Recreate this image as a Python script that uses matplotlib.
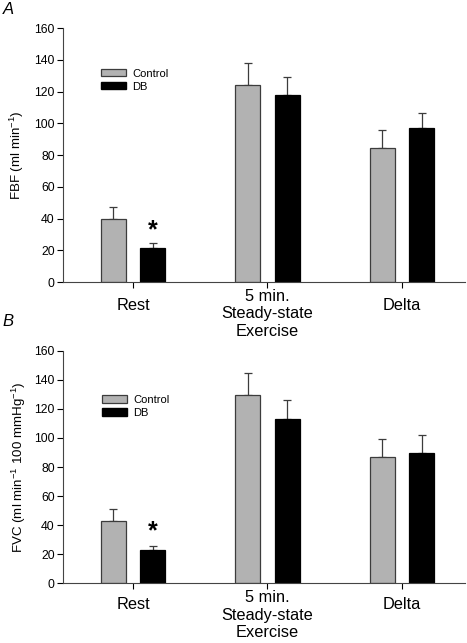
import numpy as np
import matplotlib as mlt
mlt.use('Agg')
import matplotlib.pyplot as plt
from matplotlib.patches import Patch

plt.rcParams['font.family'] = ['Liberation Sans', 'DejaVu Sans']
plt.rcParams['mathtext.default'] = 'regular'

# data
categories = ['Rest', '5 min.\nSteady-state\nExercise', 'Delta']
groups = ['Control', 'DB']

fbf_control = [39.7, 123.9, 84.6]
fbf_control_err = [7.5, 14.1, 10.9]
fbf_db = [21.4, 118.0, 96.8]
fbf_db_err = [3.0, 11.3, 9.5]

fvc_control = [42.6, 129.3, 86.9]
fvc_control_err = [8.3, 15.1, 12.1]
fvc_db = [23.1, 112.8, 89.8]
fvc_db_err = [2.3, 13.5, 12.0]

star_idx = 0  # significant difference at rest

grey = '#b2b2b2'
edge = '#3c3c3c'


def draw_panel(ax, ctrl, ctrl_err, db, db_err, ylabel, ylab_x, leg_anchor, star_y, lab_pad):
    x = np.arange(len(categories))
    off = 0.147
    w = 0.186
    ax.bar(x - off, ctrl, w, color=grey, edgecolor=edge, linewidth=0.9, zorder=2)
    ax.bar(x + off, db, w, color='black', edgecolor='black', linewidth=0.9, zorder=2)
    ax.errorbar(x - off, ctrl, yerr=[np.zeros(len(ctrl)), ctrl_err], fmt='none',
                ecolor=edge, elinewidth=0.9, capsize=2.6, capthick=0.9, zorder=1)
    ax.errorbar(x + off, db, yerr=[np.zeros(len(db)), db_err], fmt='none',
                ecolor=edge, elinewidth=0.9, capsize=2.6, capthick=0.9, zorder=1)
    ax.text(x[star_idx] + off, star_y, '*', ha='center', va='center',
            fontsize=18, fontweight='bold')

    ax.set_xlim(-0.52, 2.47)
    ax.set_ylim(0, 160)
    ax.set_yticks(np.arange(0, 161, 20))
    ax.set_xticks(x)
    ax.tick_params(axis='y', direction='out', length=4, width=0.8, labelsize=8.8, pad=2)
    ax.tick_params(axis='x', direction='out', length=4, width=0.8, labelbottom=False)
    for i, c in enumerate(categories):
        pad = -7 if '\n' in c else lab_pad
        ax.annotate(c, xy=(x[i], 0), xycoords=('data', 'axes fraction'),
                    xytext=(0, pad * 0.72), textcoords='offset points',
                    ha='center', va='top', fontsize=11.8, linespacing=1.2)
    for s in ['top', 'right']:
        ax.spines[s].set_visible(False)
    for s in ['left', 'bottom']:
        ax.spines[s].set_color('#444444')
        ax.spines[s].set_linewidth(0.8)
    ax.set_ylabel(ylabel, fontsize=9.6)
    ax.yaxis.set_label_coords(ylab_x, 0.5)

    handles = [Patch(facecolor=grey, edgecolor=edge, linewidth=0.9),
               Patch(facecolor='black', edgecolor='black')]
    ax.legend(handles, groups, loc='upper left', bbox_to_anchor=leg_anchor,
              frameon=False, fontsize=8, handlelength=2.25, handleheight=0.62,
              handletextpad=0.6, labelspacing=0.28, borderpad=0, borderaxespad=0)


fig = plt.figure(figsize=(4.67, 6.43), dpi=100)
ax1 = fig.add_axes([0.135, 0.5614, 0.861, 0.395])
ax2 = fig.add_axes([0.135, 0.0928, 0.861, 0.3618])

draw_panel(ax1, fbf_control, fbf_control_err, fbf_db, fbf_db_err,
           'FBF (ml min$^{-1}$)', -0.093, (0.094, 0.84), 32.7, -16)
draw_panel(ax2, fvc_control, fvc_control_err, fvc_db, fvc_db_err,
           'FVC (ml min$^{-1}$ 100 mmHg$^{-1}$)', -0.086, (0.096, 0.81), 35.5, -14)

fig.text(0.005, 0.997, 'A', fontsize=12, style='italic', va='top', ha='left')
fig.text(0.005, 0.512, 'B', fontsize=12, style='italic', va='top', ha='left')

fig.savefig('out.png', dpi=100)
